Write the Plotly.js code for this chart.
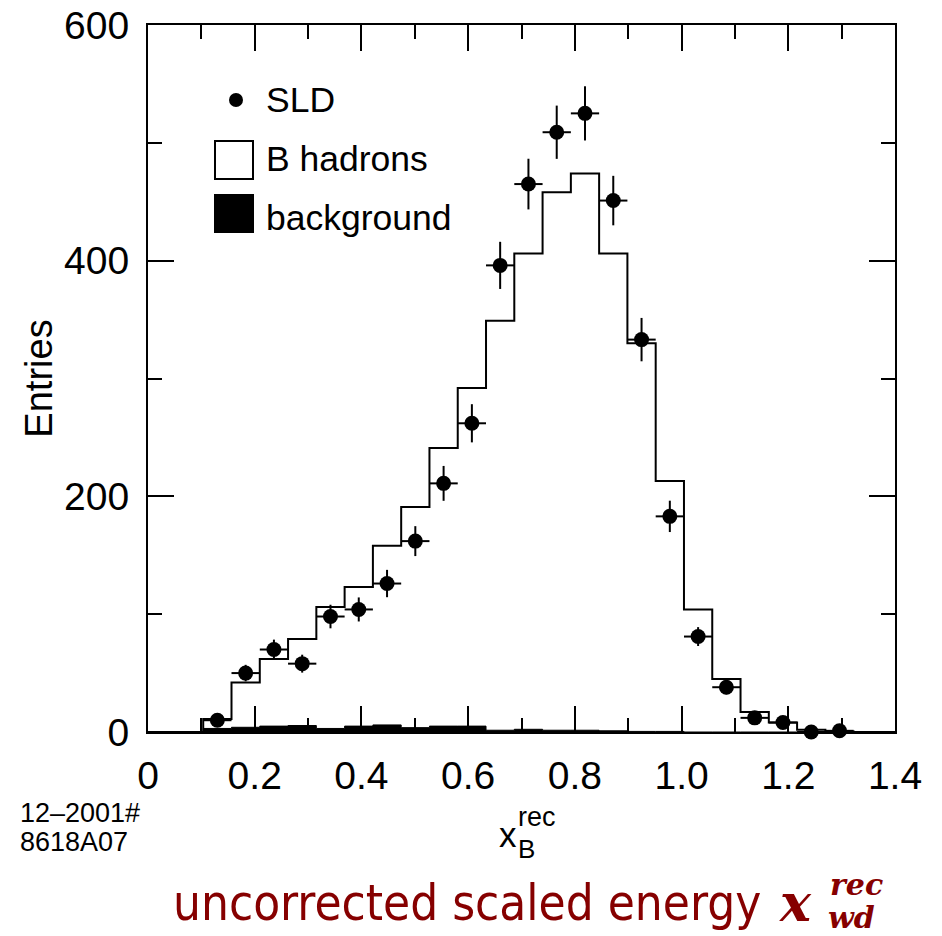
<!DOCTYPE html>
<html>
<head>
<meta charset="utf-8">
<script src="https://cdn.plot.ly/plotly-3.0.1.min.js"></script>
<style>html,body{margin:0;padding:0;background:#fff;}</style>
</head>
<body>
<div id="chart" style="width:942px;height:936px;"></div>
<script>
// ---- data ----
const binCenters = [0.130, 0.183, 0.236, 0.289, 0.342, 0.395, 0.448, 0.501, 0.554, 0.607,
                    0.660, 0.713, 0.766, 0.819, 0.872, 0.925, 0.978, 1.031, 1.084, 1.137,
                    1.190, 1.243, 1.296];
const binHalfWidth = 0.0265;
const sldEntries = [10, 50, 70, 58, 98, 104, 126, 162, 211, 262,
                    396, 465, 509, 525, 451, 333, 183, 81, 38, 12,
                    8, 0, 1];
const sldErrors  = [3, 7, 8.4, 7.6, 10, 10.2, 11.6, 12.7, 14.8, 16.2,
                    20, 21.5, 22.6, 23, 21, 18.4, 13.3, 8, 6, 3.4,
                    2.8, 0, 1];
const bHadrons   = [11, 42, 62, 79, 106, 123, 158, 191, 241, 292,
                    349, 406, 458, 474, 406, 330, 213, 104, 45, 17,
                    8, 2, 0.5];
const background = [3, 4, 5, 5.5, 3, 5, 6, 3.7, 5, 5,
                    1.5, 2.3, 1.5, 1.5, 1, 0.5, 0.5, 0, 0, 0,
                    0, 0, 0];
const xTickVals = [0, 0.2, 0.4, 0.6, 0.8, 1.0, 1.2, 1.4];
const xTickText = ['0', '0.2', '0.4', '0.6', '0.8', '1.0', '1.2', '1.4'];
const yTickVals = [0, 200, 400, 600];
const yTickText = ['0', '200', '400', '600'];
const xRange = [0, 1.4];
const yRange = [0, 600];

// ---- step outline helpers (histogram drawn through the axes) ----
const leftEdges = binCenters.map(c => c - binHalfWidth);
const lastRight = binCenters[binCenters.length - 1] + binHalfWidth;
function stepX() { return [xRange[0]].concat(leftEdges, [lastRight, xRange[1]]); }
function stepY(vals) { return [0].concat(vals, [0, 0]); }

const traces = [
  {
    type: 'scatter', mode: 'lines', name: 'background',
    x: stepX(), y: stepY(background),
    line: {shape: 'hv', color: '#000', width: 1},
    fill: 'tozeroy', fillcolor: '#000',
    hoverinfo: 'skip', showlegend: false
  },
  {
    type: 'scatter', mode: 'lines', name: 'B hadrons',
    x: stepX(), y: stepY(bHadrons),
    line: {shape: 'hv', color: '#000', width: 2},
    showlegend: false
  },
  {
    type: 'scatter', mode: 'markers', name: 'SLD',
    x: binCenters, y: sldEntries,
    marker: {symbol: 'circle', size: 15, color: '#000'},
    error_y: {type: 'data', array: sldErrors, visible: true, color: '#000', thickness: 2, width: 0},
    error_x: {type: 'constant', value: binHalfWidth, visible: true, color: '#000', thickness: 2, width: 0},
    cliponaxis: false,
    showlegend: false
  }
];

// plot-area pixel frame -> paper coordinates
const PL = 148, PR = 895, PT = 25, PB = 732;
const W = 942, H = 936;
const px = p => (p - PL) / (PR - PL);
const py = p => (PB - p) / (PB - PT);

const sansFont = 'Liberation Sans, Arial, Helvetica, sans-serif';
const red = '#860000';

const annotations = [
  // legend texts
  {text: 'SLD', x: px(264), y: py(100), xanchor: 'left', yanchor: 'middle'},
  {text: 'B hadrons', x: px(264), y: py(159), xanchor: 'left', yanchor: 'middle'},
  {text: 'background', x: px(264), y: py(218), xanchor: 'left', yanchor: 'middle'}
].map(a => Object.assign(a, {font: {family: sansFont, size: 35.5, color: '#000'}}));

annotations.push(
  // x-axis title x_B^rec
  {text: 'x', x: px(497), y: py(834), xanchor: 'left', yanchor: 'middle',
   font: {family: sansFont, size: 35, color: '#000'}},
  {text: 'rec', x: px(516), y: py(817), xanchor: 'left', yanchor: 'middle',
   font: {family: sansFont, size: 27, color: '#000'}},
  {text: 'B', x: px(516), y: py(849), xanchor: 'left', yanchor: 'middle',
   font: {family: sansFont, size: 26, color: '#000'}},
  // plot id
  {text: '12–2001#', x: px(18), y: py(813), xanchor: 'left', yanchor: 'middle',
   font: {family: sansFont, size: 27, color: '#000'}},
  {text: '8618A07', x: px(18), y: py(842), xanchor: 'left', yanchor: 'middle',
   font: {family: sansFont, size: 27, color: '#000'}},
  // red caption
  {text: 'uncorrected scaled energy', x: px(171), y: py(903), xanchor: 'left', yanchor: 'middle',
   font: {family: 'DejaVu Sans Condensed, DejaVu Sans, sans-serif', size: 49, color: red}},
  {text: '<b><i>x</i></b>', x: px(777), y: py(902), xanchor: 'left', yanchor: 'middle',
   font: {family: 'DejaVu Serif, serif', size: 52, color: red}},
  {text: '<b><i>rec</i></b>', x: px(828), y: py(884), xanchor: 'left', yanchor: 'middle',
   font: {family: 'DejaVu Serif, serif', size: 30, color: red}},
  {text: '<b><i>wd</i></b>', x: px(826), y: py(917), xanchor: 'left', yanchor: 'middle',
   font: {family: 'DejaVu Serif, serif', size: 30, color: red}}
);
annotations.forEach(a => { a.xref = 'paper'; a.yref = 'paper'; a.showarrow = false; });

const shapes = [
  // legend symbols
  {type: 'circle', xref: 'paper', yref: 'paper',
   x0: px(229), x1: px(243), y0: py(107), y1: py(93),
   fillcolor: '#000', line: {color: '#000', width: 0}},
  {type: 'rect', xref: 'paper', yref: 'paper',
   x0: px(215), x1: px(253), y0: py(179), y1: py(141),
   fillcolor: '#fff', line: {color: '#000', width: 2}},
  {type: 'rect', xref: 'paper', yref: 'paper',
   x0: px(214), x1: px(254), y0: py(233), y1: py(194),
   fillcolor: '#000', line: {color: '#000', width: 0}}
];

const axisCommon = {
  showline: true, linecolor: '#000', linewidth: 2, mirror: 'ticks',
  ticks: 'inside', ticklen: 26, tickwidth: 2, tickcolor: '#000',
  showgrid: false, zeroline: false,
  tickfont: {family: sansFont, size: 39, color: '#000'},
  tickmode: 'array', fixedrange: true
};

const layout = {
  width: W, height: H,
  margin: {l: PL, r: W - PR, t: PT, b: H - PB, pad: 0},
  paper_bgcolor: '#fff', plot_bgcolor: '#fff',
  showlegend: false,
  xaxis: Object.assign({}, axisCommon, {
    range: xRange, tickvals: xTickVals, ticktext: xTickText,
    ticklabelstandoff: 8,
    minor: {tickmode: 'linear', tick0: 0, dtick: 0.1, ticks: 'inside', ticklen: 14, tickwidth: 2, tickcolor: '#000', showgrid: false}
  }),
  yaxis: Object.assign({}, axisCommon, {
    range: yRange, tickvals: yTickVals, ticktext: yTickText,
    ticklabelstandoff: 9,
    title: {text: 'Entries', font: {family: sansFont, size: 38, color: '#000'}, standoff: 0},
    minor: {tickmode: 'linear', tick0: 0, dtick: 100, ticks: 'inside', ticklen: 14, tickwidth: 2, tickcolor: '#000', showgrid: false}
  }),
  annotations: annotations,
  shapes: shapes
};

Plotly.newPlot('chart', traces, layout, {displayModeBar: false, staticPlot: true});
</script>
</body>
</html>
